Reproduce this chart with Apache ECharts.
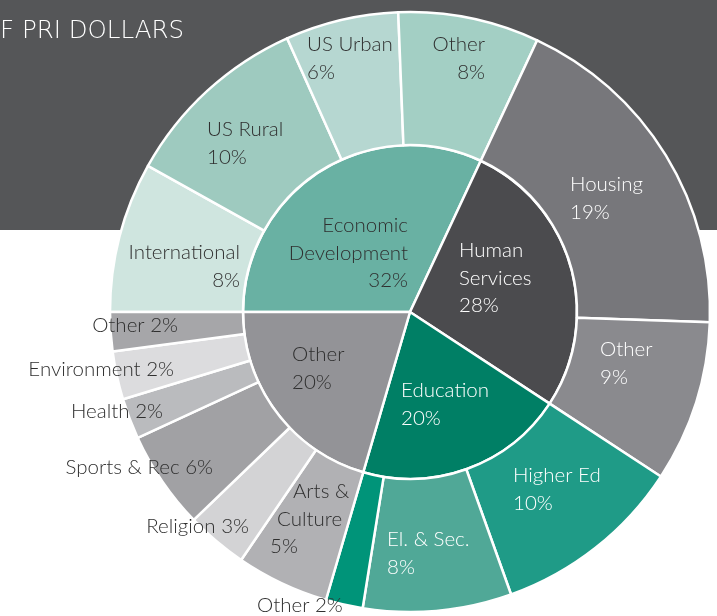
<!DOCTYPE html>
<html>
<head>
<meta charset="utf-8">
<title>PRI dollars</title>
<script src="https://cdn.jsdelivr.net/npm/echarts@6/dist/echarts.min.js"></script>
<style>
html,body{margin:0;padding:0;background:#fff;}
#chart{width:717px;height:616px;}
</style>
</head>
<body>
<div id="chart"></div>
<script>
// inner ring: program areas (clockwise from 9 o'clock)
var innerNames = ['Economic\nDevelopment', 'Human\nServices', 'Education', 'Other'];
var innerValues = [32.0, 27.3, 20.3, 20.5];
var innerPct = [32, 28, 20, 20];

// outer ring: sub areas, same order
var outerNames = ['International', 'US Rural', 'US Urban', 'Other', 'Housing', 'Other',
	'Higher Ed', 'El. & Sec.', 'Other', 'Arts &\nCulture', 'Religion', 'Sports & Rec',
	'Health', 'Environment', 'Other'];
var outerValues = [8.1, 10.2, 6.1, 7.6, 18.6, 8.7, 10.3, 8.0, 2.0, 5.0, 3.3, 5.3, 2.2, 2.6, 2.1];
var outerPct = [8, 10, 6, 8, 19, 9, 10, 8, 2, 5, 3, 6, 2, 2, 2];

// styles
var innerColors = ['#69b1a3', '#4b4b4e', '#007f65', '#939397'];
var innerText = ['#2f2f2f', '#fff', '#fff', '#2f2f2f'];
var outerColors = ['#cfe5df', '#9ecabf', '#b6d7d1', '#a3cfc4', '#77777b', '#8a8a8e',
	'#1f9b87', '#50a897', '#009479', '#b1b1b4', '#d3d3d5', '#a1a1a4', '#babbbe', '#dcdcde', '#a6a6a9'];
var outerText = ['#2f2f2f', '#2f2f2f', '#2f2f2f', '#2f2f2f', '#fff', '#fff',
	'#fff', '#fff', '#2f2f2f', '#2f2f2f', '#2f2f2f', '#2f2f2f', '#2f2f2f', '#2f2f2f', '#2f2f2f'];
var oneLine = [8, 10, 11, 12, 13, 14];

// label anchors: x, first baseline, align
var innerPos = [[408, 233, 'right'], [459, 258, 'left'], [401, 398, 'left'], [292, 362, 'left']];
var outerPos = [[240, 260, 'right'], [207, 137, 'left'], [307, 52, 'left'], [485, 52, 'right'],
	[570, 192, 'left'], [600, 357, 'left'], [513, 483, 'left'], [387, 547, 'left'],
	[257, 613, 'left'], [270, 499, 'left'], [249, 534, 'right'], [213, 475, 'right'],
	[163, 419, 'right'], [174, 377, 'right'], [178, 333, 'right']];

var LH = 27.5;

function buildData(names, values, colors, texts){
	var arr = [];
	for(var i=0;i<names.length;i++){
		arr.push({
			name : names[i],
			value : values[i],
			itemStyle : {color : colors[i]},
			label : {color : texts[i]}
		});
	}
	return arr;
}

function placeLabel(pos){
	return function(params){
		var p = pos[params.dataIndex];
		return {x : p[0], y : p[1] - 21, align : p[2], verticalAlign : 'top'};
	};
}

var baseLabel = {
	show : true,
	position : 'inside',
	fontFamily : 'Lato',
	fontWeight : 300,
	fontSize : 20.5,
	lineHeight : LH
};

function richStyle(padLeft){
	return {fontFamily : 'Lato', fontWeight : 300, fontSize : 20.5, lineHeight : LH,
		color : '#2f2f2f', padding : [0, 0, 0, padLeft]};
}

var chart = echarts.init(document.getElementById('chart'));
var option = {
	animation : false,
	title : {
		text : 'F PRI DOLLARS',
		left : 0,
		top : 19,
		padding : 0,
		textStyle : {color : '#fff', fontFamily : 'DejaVu Sans', fontSize : 24.5, fontWeight : 300}
	},
	graphic : [{
		type : 'rect',
		z : -10,
		silent : true,
		shape : {x : 0, y : 0, width : 717, height : 230},
		style : {fill : '#555658'}
	}],
	series : [{
		type : 'pie',
		silent : true,
		center : [410, 312],
		radius : [0, 167],
		startAngle : 180,
		clockwise : true,
		itemStyle : {borderColor : '#fff', borderWidth : 2.5},
		label : echarts.util.extend({
			formatter : function(p){
				return p.name + '\n' + innerPct[p.dataIndex] + '%';
			}
		}, baseLabel),
		labelLine : {show : false},
		labelLayout : placeLabel(innerPos),
		data : buildData(innerNames, innerValues, innerColors, innerText)
	}, {
		type : 'pie',
		silent : true,
		center : [410, 312],
		radius : [167, 300],
		startAngle : 180,
		clockwise : true,
		itemStyle : {borderColor : '#fff', borderWidth : 2.5},
		label : echarts.util.extend({
			formatter : function(p){
				var i = p.dataIndex;
				if(p.name.indexOf('\n') > -1){
					return '{a|Arts &}\n{b|Culture}\n{c|' + outerPct[i] + '%}';
				}
				var sep = oneLine.indexOf(i) > -1 ? ' ' : '\n';
				return p.name + sep + outerPct[i] + '%';
			},
			rich : {a : richStyle(23), b : richStyle(7), c : richStyle(0)}
		}, baseLabel),
		labelLine : {show : false},
		labelLayout : placeLabel(outerPos),
		data : buildData(outerNames, outerValues, outerColors, outerText)
	}]
};
chart.setOption(option);
</script>
</body>
</html>
